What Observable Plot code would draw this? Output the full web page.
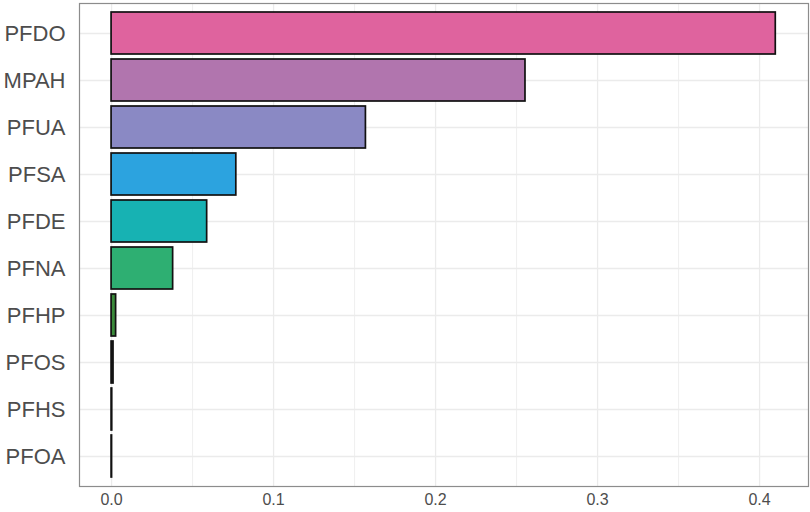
<!DOCTYPE html>
<html>
<head>
<meta charset="utf-8">
<script src="https://cdn.jsdelivr.net/npm/d3@7"></script>
<script src="https://cdn.jsdelivr.net/npm/@observablehq/plot@0.6"></script>
<style>
  html, body { margin: 0; padding: 0; background: #fff; }
</style>
</head>
<body>
<div id="chart"></div>
<script>
const categories = ["PFDO", "MPAH", "PFUA", "PFSA", "PFDE", "PFNA", "PFHP", "PFOS", "PFHS", "PFOA"];
const values = [0.410, 0.2555, 0.157, 0.077, 0.059, 0.038, 0.0028, 0.0012, 0.0004, 0.0003];
const colors = ["#DF639E", "#B175AE", "#8A89C4", "#2CA3DF", "#17B2B3", "#2EAF72", "#3A8A3A", "#222222", "#111111", "#111111"];
const xTicks = [0, 0.1, 0.2, 0.3, 0.4];
const xMinor = [0.05, 0.15, 0.25, 0.35];

const data = categories.map((name, i) => ({name, value: values[i]}));

const chart = Plot.plot({
  width: 810,
  height: 512,
  marginLeft: 79,
  marginRight: 2,
  marginTop: 3,
  marginBottom: 26,
  style: {fontFamily: "'Liberation Sans', Arial, sans-serif", fontSize: "16px", color: "#4D4D4D", background: "#fff"},
  x: {domain: [-0.0198, 0.4302]},
  y: {domain: categories, paddingInner: 0.1, paddingOuter: 0.15, align: 0.5},
  color: {domain: categories, range: colors},
  marks: [
    Plot.ruleX(xMinor, {stroke: "#EBEBEB", strokeWidth: 0.8}),
    Plot.ruleX(xTicks, {stroke: "#EBEBEB", strokeWidth: 1.3}),
    Plot.ruleY(categories, {y: d => d, stroke: "#EBEBEB", strokeWidth: 1.3}),
    Plot.barX(data, {x: "value", y: "name", fill: "name", stroke: "#111", strokeWidth: 1.7}),
    Plot.frame({stroke: "#8C8C8C", strokeWidth: 1.2}),
    Plot.axisX({ticks: xTicks, tickFormat: d3.format(".1f"), tickSize: 0, tickPadding: 7, fontSize: 16, fill: "#4D4D4D", label: null}),
    Plot.axisY({tickSize: 0, tickPadding: 14, fontSize: 22, fill: "#4D4D4D", label: null})
  ]
});
document.getElementById("chart").appendChild(chart);
</script>
</body>
</html>
